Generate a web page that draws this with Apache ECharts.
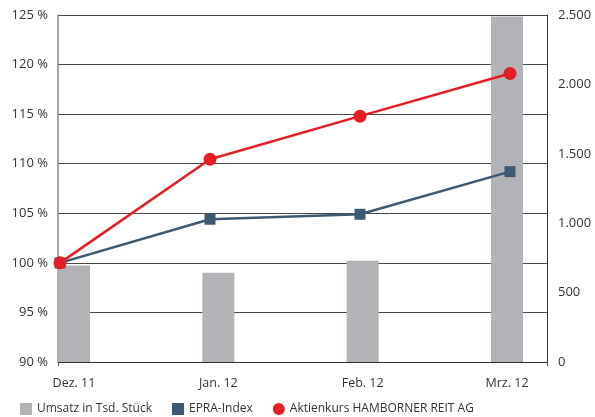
<!DOCTYPE html>
<html><head><meta charset="utf-8">
<script src="https://cdn.jsdelivr.net/npm/echarts@6/dist/echarts.min.js"></script>
<style>html,body{margin:0;padding:0;background:#fff}#c{width:595px;height:417px}</style>
</head><body><div id="c"></div>
<script>
const categories = ['Dez. 11', 'Jan. 12', 'Feb. 12', 'Mrz. 12'];
const umsatz = [696, 643, 730, 2490];
const epra = [100, 104.4, 104.9, 109.2];
const aktienkurs = [100, 110.45, 114.8, 119.1];
const leftTicks = [90, 125, 5];
const rightTicks = [0, 2500, 500];

const FONT = 'Open Sans';
const idx = categories.map((c, i) => i);
const fmtDE = v => String(v).replace(/\B(?=(\d{3})+(?!\d))/g, '.');
const BAR_MIN = -0.1109, BAR_MAX = 3.2771;

const chart = echarts.init(document.getElementById('c'), null, {renderer: 'canvas'});
chart.setOption({
  animation: false,
  textStyle: {fontFamily: FONT},
  grid: {left: 58, right: 48, top: 15, bottom: 55},
  legend: {
    left: 20, top: 403, padding: 0, itemWidth: 12, itemHeight: 12, itemGap: 20,
    textStyle: {fontFamily: FONT, fontSize: 12, color: '#333'},
    data: [
      {name: 'Umsatz in Tsd. Stück', icon: 'rect'},
      {name: 'EPRA-Index', icon: 'rect'},
      {name: 'Aktienkurs HAMBORNER REIT AG', icon: 'circle'}
    ]
  },
  xAxis: [
    {
      type: 'value', min: BAR_MIN, max: BAR_MAX,
      axisLine: {show: true, onZero: false, lineStyle: {color: '#333', width: 1}},
      axisTick: {show: true, customValues: [BAR_MIN, BAR_MAX], length: 4, lineStyle: {color: '#555'}},
      splitLine: {show: false},
      axisLabel: {
        customValues: idx, margin: 15, fontSize: 12.5, color: '#333', fontFamily: FONT,
        formatter: v => categories[Math.round(v)]
      }
    },
    {
      type: 'value', min: -0.0133, max: 3.2467, show: false
    }
  ],
  yAxis: [
    {
      type: 'value', min: leftTicks[0], max: leftTicks[1], interval: leftTicks[2],
      axisLine: {show: true, onZero: false, lineStyle: {color: '#8a8a8a', width: 1.5}},
      axisTick: {show: false},
      splitLine: {show: true, lineStyle: {color: '#4a4a4a', width: 1}},
      axisLabel: {formatter: '{value} %', margin: 10, fontSize: 13, color: '#333', fontFamily: FONT}
    },
    {
      type: 'value', min: rightTicks[0], max: rightTicks[1], interval: rightTicks[2],
      position: 'right',
      axisLine: {show: true, onZero: false, lineStyle: {color: '#333', width: 1}},
      axisTick: {show: false},
      splitLine: {show: false},
      axisLabel: {formatter: v => fmtDE(v), margin: 11, fontSize: 13, color: '#333', fontFamily: FONT}
    }
  ],
  series: [
    {
      name: 'Umsatz in Tsd. Stück', type: 'bar', xAxisIndex: 0, yAxisIndex: 1,
      barWidth: 32, itemStyle: {color: '#b2b3b6'},
      data: umsatz.map((v, i) => [i, v]), z: 1
    },
    {
      name: 'EPRA-Index', type: 'line', xAxisIndex: 1, yAxisIndex: 0,
      symbol: 'rect', symbolSize: 11,
      lineStyle: {color: '#3d5a72', width: 2.5},
      itemStyle: {color: '#3d5a72'},
      data: epra.map((v, i) => [i, v]), z: 3
    },
    {
      name: 'Aktienkurs HAMBORNER REIT AG', type: 'line', xAxisIndex: 1, yAxisIndex: 0,
      symbol: 'circle', symbolSize: 13,
      lineStyle: {color: '#e31e24', width: 2.5},
      itemStyle: {color: '#e31e24'},
      data: aktienkurs.map((v, i) => [i, v]), z: 4
    }
  ]
});
</script></body></html>
